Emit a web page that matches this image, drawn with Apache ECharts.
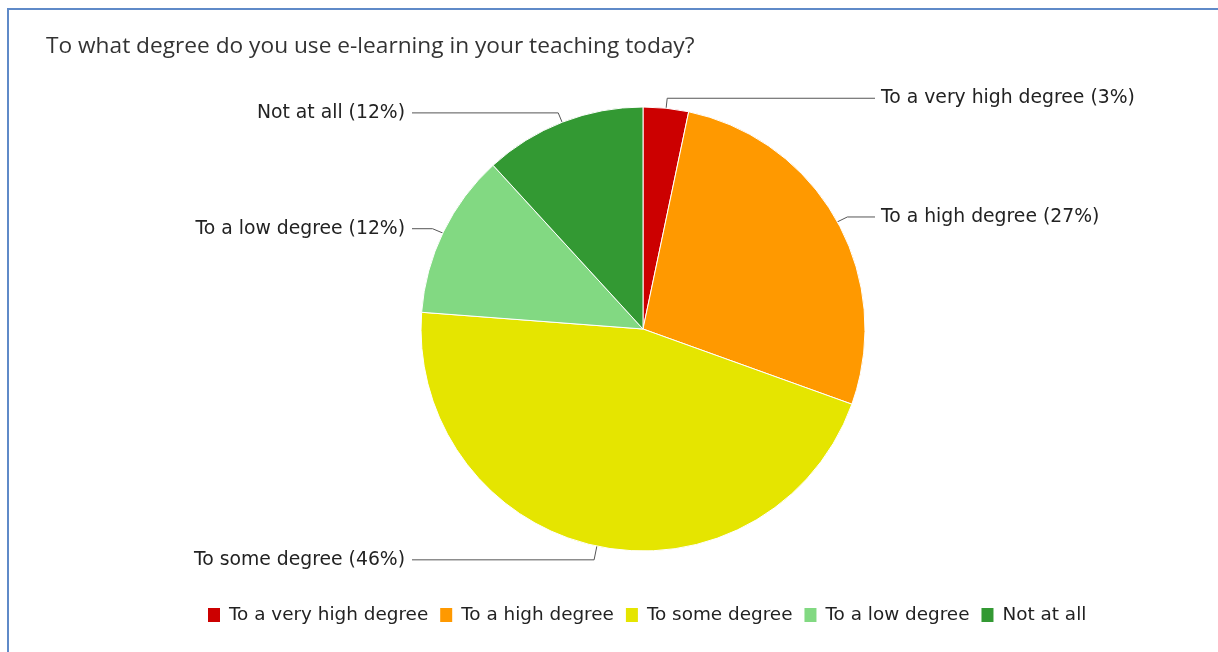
<!DOCTYPE html>
<html>
<head>
<meta charset="utf-8">
<script src="https://cdn.jsdelivr.net/npm/echarts@6/dist/echarts.min.js"></script>
<style>
  html, body { margin: 0; padding: 0; background: #fff; }
  #frame { position: absolute; left: 7px; top: 8px; width: 1300px; height: 700px;
           border-left: 2px solid #5f8ac8; border-top: 2px solid #5f8ac8; pointer-events: none; }
  #main { position: absolute; left: 0; top: 0; width: 1218px; height: 652px; }
</style>
</head>
<body>
<div id="main"></div>
<div id="frame"></div>
<script>
// 分类与数值（按图中扇区角度估读，单位 %）
var categories = ['To a very high degree', 'To a high degree', 'To some degree', 'To a low degree', 'Not at all'];
var values = [3.3, 27.2, 45.7, 12.0, 11.8];
var colors = ['#cc0000', '#ff9900', '#e5e500', '#82d982', '#339933'];

var pieCenter = [643, 329];
var pieRadius = 222;
var labelFont = 'DejaVu Sans';

var chart = echarts.init(document.getElementById('main'));

var option = {
  animation: false,
  color: colors,
  // 大标题
  title: {
    text: 'To what degree do you use e-learning in your teaching today?',
    left: 41,
    top: 30,
    textStyle: { fontFamily: 'Open Sans', fontSize: 22.7, fontWeight: 'normal', color: '#333' }
  },
  // 图例
  legend: {
    left: 201,
    top: 601,
    icon: 'rect',
    itemWidth: 14,
    itemHeight: 16,
    itemGap: 10,
    textStyle: { fontFamily: labelFont, fontSize: 18.4, color: '#222', padding: [0, 0, 0, 3] },
    data: categories
  },
  series: [{
    type: 'pie',
    center: pieCenter,
    radius: pieRadius,
    startAngle: 90,
    clockwise: true,
    avoidLabelOverlap: false,
    itemStyle: { borderColor: '#fff', borderWidth: 1 },
    emphasis: { disabled: true },
    label: {
      show: true,
      position: 'outside',
      fontFamily: labelFont,
      fontSize: 18.8,
      color: '#222',
      formatter: function (p) { return p.name + ' (' + Math.round(p.percent) + '%)'; }
    },
    labelLine: { show: true, length: 12, length2: 20, lineStyle: { color: '#555', width: 1 } },
    // 引导线从扇区内部开始，文字对齐
    labelLayout: function (params) {
      var pts = params.labelLinePoints;
      if (!pts) return {};
      var cx = pieCenter[0], cy = pieCenter[1];
      var right = pts[2][0] > cx;
      var p0 = [cx + (pts[0][0] - cx) * 0.9, cy + (pts[0][1] - cy) * 0.9];
      var y = pts[1][1] + 2;
      var endX = right ? 875 : 412;
      return {
        x: right ? 881 : 405,
        y: y,
        align: right ? 'left' : 'right',
        verticalAlign: 'middle',
        labelLinePoints: [p0, [pts[1][0], y], [endX, y]]
      };
    },
    data: categories.map(function (c, i) { return { name: c, value: values[i] }; })
  }]
};

chart.setOption(option);
</script>
</body>
</html>
